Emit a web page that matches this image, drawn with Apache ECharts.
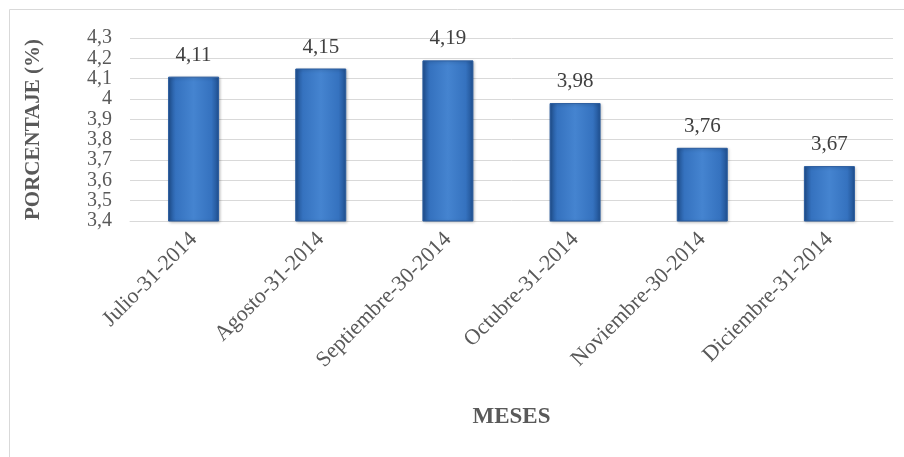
<!DOCTYPE html>
<html><head><meta charset="utf-8">
<script src="https://cdn.jsdelivr.net/npm/echarts@6/dist/echarts.min.js"></script>
<style>html,body{margin:0;padding:0;background:#fff}#c{width:904px;height:457px}</style>
</head><body><div id="c"></div>
<script>
const categories = ['Julio-31-2014','Agosto-31-2014','Septiembre-30-2014','Octubre-31-2014','Noviembre-30-2014','Diciembre-31-2014'];
const values = [4.11, 4.15, 4.19, 3.98, 3.76, 3.67];
const yTitle = 'PORCENTAJE (%)';
const xTitle = 'MESES';
const fmt = v => String(Math.round(v * 100) / 100).replace('.', ',');
const chart = echarts.init(document.getElementById('c'));
const font = '"Times New Roman", "Liberation Serif", "DejaVu Serif", serif';
chart.setOption({
  animation: false,
  graphic: [{type:'rect', shape:{x:9.5,y:9.5,width:900,height:460}, style:{fill:'none', stroke:'#d9d9d9', lineWidth:1}}],
  grid: {left: 130, right: 11, top: 38, bottom: 236},
  xAxis: {
    type: 'category', data: categories,
    name: xTitle, nameLocation: 'middle', nameGap: 185,
    nameTextStyle: {fontFamily: font, fontWeight: 'bold', fontSize: 23, color: '#595959'},
    axisLine: {lineStyle: {color: '#d9d9d9'}},
    axisTick: {show: false},
    axisLabel: {rotate: 45, interval: 0, fontFamily: font, fontStyle: 'normal', fontWeight: 'normal', fontSize: 22, color: '#595959', margin: 15}
  },
  yAxis: {
    type: 'value', min: 3.4, max: 4.3, interval: 0.1,
    name: yTitle, nameLocation: 'middle', nameGap: 86, nameRotate: 90,
    nameTextStyle: {fontFamily: font, fontWeight: 'bold', fontSize: 21, color: '#595959'},
    axisLine: {show: false}, axisTick: {show: false},
    splitLine: {lineStyle: {color: '#d9d9d9'}},
    axisLabel: {fontFamily: font, fontStyle: 'normal', fontWeight: 'normal', fontSize: 20, lineHeight: 18, color: '#595959', margin: 18, formatter: fmt,
      showMinLabel: true, showMaxLabel: true, hideOverlap: false}
  },
  series: [{
    type: 'bar', data: values, barWidth: 51,
    itemStyle: {
      color: new echarts.graphic.LinearGradient(0, 0, 1, 0, [
        {offset: 0, color: '#1f4f8f'},
        {offset: 0.15, color: '#3572bf'},
        {offset: 0.5, color: '#4584d0'},
        {offset: 0.85, color: '#3572bf'},
        {offset: 1, color: '#1f4f8f'}
      ]),
      borderColor: '#2a5c9e', borderWidth: 1,
      shadowColor: 'rgba(0,0,0,0.25)', shadowBlur: 3, shadowOffsetX: 1, shadowOffsetY: 1
    },
    label: {show: true, position: 'top', distance: 11, fontFamily: font, fontStyle: 'normal', fontWeight: 'normal', fontSize: 21, color: '#404040', formatter: p => fmt(p.value)}
  }]
});
</script></body></html>
